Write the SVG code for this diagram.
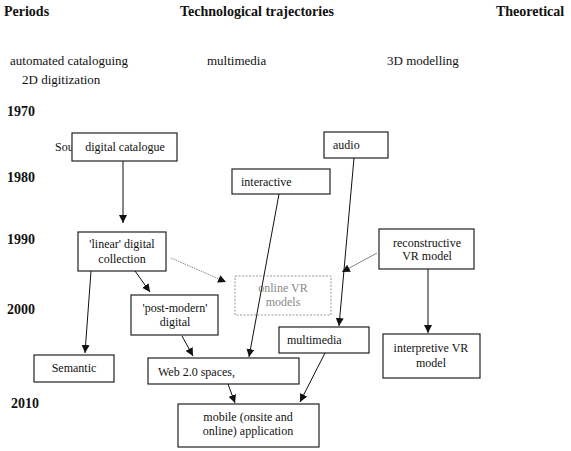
<svg xmlns="http://www.w3.org/2000/svg" width="571" height="451" viewBox="0 0 571 451">
<style>
text{font-family:"Liberation Serif","Times New Roman",serif;fill:#111}
.h{font-size:14px;font-weight:bold}
.t{font-size:13px}
.b{font-size:12px}
.m{text-anchor:middle}
.box{fill:#fff;stroke:#222;stroke-width:1.2}
.dash{fill:#fff;stroke:#999;stroke-width:1;stroke-dasharray:2 1.5}
.gt{fill:#888}
.ln{stroke:#111;stroke-width:1;fill:none}
.gl{stroke:#777;stroke-width:0.9;fill:none}
</style>
<defs>
<marker id="ah" viewBox="0 0 10 10" refX="10" refY="5" markerWidth="8" markerHeight="8" orient="auto" markerUnits="userSpaceOnUse"><path d="M0,0 L10,5 L0,10 z" fill="#111"/></marker>
</defs>
<rect width="571" height="451" fill="#fff"/>
<g id="labels">
<text class="h" x="4" y="16">Periods</text>
<text class="h" x="180" y="16">Technological trajectories</text>
<text class="h" x="496" y="16">Theoretical</text>
<text class="t" x="10" y="65">automated cataloguing</text>
<text class="t" x="207" y="65">multimedia</text>
<text class="t" x="387" y="65">3D modelling</text>
<text class="t" x="22" y="84">2D digitization</text>
<text class="h" x="7" y="116">1970</text>
<text class="h" x="7" y="182">1980</text>
<text class="h" x="7" y="244">1990</text>
<text class="h" x="7" y="314">2000</text>
<text class="h" x="11" y="408">2010</text>
<text class="b" x="55" y="151">Sou</text>
</g>
<g id="digital-catalogue"><rect class="box" x="72" y="133" width="105" height="28"/><text class="b m" x="125" y="151">digital catalogue</text></g>
<g id="linear-collection"><rect class="box" x="78" y="232" width="88" height="39"/><text class="b m" x="122" y="248">'linear' digital</text><text class="b m" x="122" y="263">collection</text></g>
<g id="post-modern"><rect class="box" x="131" y="295" width="87" height="40"/><text class="b m" x="175" y="312">'post-modern'</text><text class="b m" x="175" y="326">digital</text></g>
<g id="semantic"><rect class="box" x="34" y="355" width="80" height="27"/><text class="b m" x="74" y="372">Semantic</text></g>
<g id="interactive"><rect class="box" x="232" y="169" width="98" height="25"/><text class="b" x="241" y="186">interactive</text></g>
<g id="audio"><rect class="box" x="324" y="132" width="64" height="26"/><text class="b" x="333" y="149">audio</text></g>
<g id="online-vr"><rect class="dash" x="235" y="276" width="96" height="39"/><text class="b m gt" x="283" y="292">online VR</text><text class="b m gt" x="283" y="306">models</text></g>
<g id="reconstructive-vr"><rect class="box" x="379" y="229" width="95" height="40"/><text class="b m" x="427" y="247">reconstructive</text><text class="b m" x="427" y="260">VR model</text></g>
<g id="multimedia-node"><rect class="box" x="279" y="327" width="90" height="26"/><text class="b" x="287" y="344">multimedia</text></g>
<g id="interpretive-vr"><rect class="box" x="383" y="334" width="97" height="44"/><text class="b m" x="431" y="352">interpretive VR</text><text class="b m" x="431" y="367">model</text></g>
<g id="web20"><rect class="box" x="148" y="358" width="151" height="26"/><text class="b" x="158" y="376">Web 2.0 spaces,</text></g>
<g id="mobile"><rect class="box" x="178" y="404" width="141" height="43"/><text class="b m" x="248" y="421">mobile (onsite and</text><text class="b m" x="248" y="435">online) application</text></g>
<g id="connectors">
<line class="ln" x1="123" y1="161" x2="123" y2="223" marker-end="url(#ah)"/>
<line class="ln" x1="135" y1="271" x2="150" y2="292" marker-end="url(#ah)"/>
<line class="ln" x1="91" y1="271" x2="85" y2="353" marker-end="url(#ah)"/>
<line class="gl" x1="171" y1="258" x2="226" y2="282" stroke-dasharray="1.5 1" marker-end="url(#ah)"/>
<line class="ln" x1="182" y1="336" x2="193" y2="356" marker-end="url(#ah)"/>
<line class="ln" x1="279" y1="194" x2="249" y2="357" marker-end="url(#ah)"/>
<line class="ln" x1="354" y1="158" x2="339" y2="326" marker-end="url(#ah)"/>
<line class="gl" x1="377" y1="253" x2="342" y2="272" marker-end="url(#ah)"/>
<line class="ln" x1="428" y1="269" x2="428" y2="333" marker-end="url(#ah)"/>
<line class="ln" x1="325" y1="353" x2="300" y2="402" marker-end="url(#ah)"/>
<line class="ln" x1="228" y1="384" x2="235" y2="403" marker-end="url(#ah)"/>
</g>
</svg>
